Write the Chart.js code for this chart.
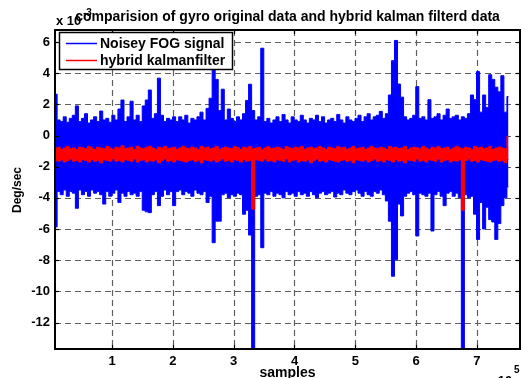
<!DOCTYPE html>
<html><head><meta charset="utf-8">
<script src="https://cdn.jsdelivr.net/npm/chart.js@4"></script>
<style>html,body{margin:0;padding:0;background:#fff;overflow:hidden}</style>
</head><body>
<canvas id="c" width="521" height="378"></canvas>
<script>
const titleText = "comparision of gyro original data and hybrid kalman filterd data";
const seriesNames = ["Noisey FOG signal", "hybrid kalmanfilter"];
const xLabel = "samples";
const yLabel = "Deg/sec";
const xTicks = [1, 2, 3, 4, 5, 6, 7];
const yTicks = [-12, -10, -8, -6, -4, -2, 0, 2, 4, 6];
// samples in units of 1e5, one column every sampleStep
const sampleStart = 0.07;
const sampleStep = 0.05;
// Deg/sec in units of 1e-3 : upper and lower extreme of noisy signal per column
const blueHigh = [
  2.65, 1.0, 0.9, 1.2, 0.85, 1.1, 1.3, 1.9, 0.9, 1.1,
  1.4, 0.8, 1.0, 1.2, 0.9, 1.57, 1.0, 1.1, 0.85, 1.3,
  1.0, 1.7, 2.28, 0.9, 1.2, 2.2, 1.0, 1.3, 0.9, 1.9,
  2.28, 2.92, 1.1, 1.4, 3.68, 1.3, 0.9, 1.1, 1.0, 1.2,
  0.9, 1.2, 1.0, 1.3, 0.8, 1.1, 1.0, 1.2, 1.5, 1.0,
  1.74, 2.39, 4.25, 3.6, 1.6, 2.97, 1.0, 1.7, 1.1, 0.9,
  1.2, 1.0, 1.4, 2.25, 3.29, 1.6, 1.0, 1.2, 5.6, 0.9,
  1.1, 0.8, 1.0, 1.2, 0.9, 1.35, 1.0, 0.8, 1.2, 1.0,
  0.9, 1.3, 1.0, 0.8, 1.1, 1.0, 1.3, 0.9, 1.2, 0.8,
  1.0, 1.1, 0.9, 1.35, 1.0, 0.8, 1.2, 1.0, 0.9, 1.1,
  1.3, 0.9, 1.2, 1.4, 1.0, 1.2, 1.3, 1.55, 1.1, 1.4,
  2.6, 4.8, 6.1, 3.3, 2.46, 1.2, 1.0, 1.1, 1.3, 3.14,
  1.1, 1.2, 1.0, 2.3, 1.1, 1.2, 1.4, 1.0, 1.3, 1.7,
  1.1, 1.2, 1.3, 1.0, 1.2, 1.1, 1.4, 2.6, 2.3, 4.1,
  1.5, 2.6, 1.8, 3.9, 3.6, 3.1, 2.8, 3.84, 1.5, 2.5
];
const blueLow = [
  -5.87, -3.6, -3.8, -3.5, -3.9, -3.6, -3.7, -4.67, -3.5, -3.8,
  -3.6, -3.9, -3.5, -3.7, -3.6, -3.8, -4.4, -3.6, -3.9, -3.7,
  -3.5, -4.3, -3.7, -3.9, -3.6, -3.8, -3.7, -3.9, -3.6, -4.8,
  -4.9, -4.95, -3.8, -3.6, -4.5, -3.9, -3.5, -3.8, -3.6, -4.5,
  -3.6, -3.5, -3.8, -3.6, -3.7, -3.9, -3.5, -3.7, -3.8, -3.6,
  -4.3, -3.9, -6.88, -5.5, -5.5, -3.8, -3.7, -4.0, -3.8, -3.9,
  -3.7, -3.8, -5.05, -4.8, -6.39, -14, -3.9, -3.8, -7.2, -3.7,
  -3.8, -3.6, -3.9, -3.7, -3.8, -4.0, -3.6, -3.8, -3.7, -3.9,
  -3.6, -3.8, -3.7, -3.9, -3.6, -3.8, -4.0, -3.7, -3.6, -3.8,
  -3.7, -3.6, -3.95, -3.7, -3.8, -3.5, -3.7, -3.8, -3.6, -3.5,
  -3.7, -3.9, -3.6, -3.8, -3.9, -3.6, -3.7, -3.5, -3.8, -4.2,
  -5.5, -9.03, -7.96, -4.4, -5.16, -3.9, -3.7, -3.6, -3.8, -6.45,
  -3.7, -3.8, -3.9, -3.7, -6.13, -3.8, -3.6, -3.9, -4.5, -3.7,
  -3.6, -3.9, -3.7, -4.0, -14, -3.8, -4.0, -3.9, -5.05, -6.67,
  -4.3, -6.0, -4.6, -5.4, -5.55, -6.67, -5.65, -4.5, -4.0, -3.3
];
// filtered signal: upper and lower extreme per column
const redHigh = [
  -0.8, -0.75, -0.9, -0.8, -0.7, -0.85, -0.8, -0.9, -0.75, -0.8,
  -0.85, -0.7, -0.8, -0.9, -0.75, -0.8, -0.85, -0.7, -0.8, -0.9,
  -0.75, -0.8, -0.65, -0.85, -0.8, -0.75, -0.9, -0.7, -0.8, -0.85,
  -0.75, -0.7, -0.8, -0.9, -0.75, -0.8, -0.7, -0.85, -0.8, -0.75,
  -0.9, -0.8, -0.7, -0.8, -0.85, -0.75, -0.8, -0.9, -0.7, -0.8,
  -0.75, -0.85, -0.8, -0.7, -0.9, -0.8, -0.75, -0.8, -0.85, -0.7,
  -0.8, -0.9, -0.75, -0.8, -0.7, -0.85, -0.8, -0.75, -0.9, -0.8,
  -0.7, -0.85, -0.8, -0.75, -0.8, -0.9, -0.7, -0.8, -0.85, -0.75,
  -0.8, -0.7, -0.9, -0.8, -0.75, -0.85, -0.8, -0.7, -0.8, -0.9,
  -0.75, -0.8, -0.85, -0.7, -0.8, -0.75, -0.9, -0.8, -0.7, -0.85,
  -0.8, -0.75, -0.9, -0.8, -0.7, -0.8, -0.85, -0.75, -0.8, -0.9,
  -0.7, -0.8, -0.75, -0.85, -0.8, -0.7, -0.9, -0.8, -0.75, -0.8,
  -0.85, -0.7, -0.8, -0.9, -0.75, -0.8, -0.7, -0.85, -0.8, -0.75,
  -0.9, -0.8, -0.7, -0.8, -0.85, -0.75, -0.8, -0.9, -0.7, -0.8,
  -0.75, -0.85, -0.8, -0.7, -0.9, -0.8, -0.75, -0.8, -0.85, -0.05
];
const redLow = [
  -1.6, -1.65, -1.55, -1.7, -1.6, -1.5, -1.65, -1.6, -1.7, -1.55,
  -1.6, -1.7, -1.55, -1.65, -1.6, -1.75, -1.55, -1.6, -1.65, -1.5,
  -1.65, -1.6, -1.7, -1.55, -1.6, -1.65, -1.5, -1.7, -1.6, -1.55,
  -1.7, -1.6, -1.65, -1.55, -1.75, -1.6, -1.5, -1.65, -1.6, -1.7,
  -1.55, -1.6, -1.65, -1.7, -1.6, -1.55, -1.65, -1.6, -1.75, -1.55,
  -1.6, -1.65, -1.55, -1.7, -1.6, -1.5, -1.65, -1.6, -1.7, -1.55,
  -1.6, -1.7, -1.55, -1.65, -1.6, -4.73, -1.55, -1.6, -1.65, -1.5,
  -1.65, -1.6, -1.7, -1.55, -1.6, -1.65, -1.5, -1.7, -1.6, -1.55,
  -1.7, -1.6, -1.65, -1.55, -1.75, -1.6, -1.5, -1.65, -1.6, -1.7,
  -1.55, -1.6, -1.65, -1.7, -1.6, -1.55, -1.65, -1.6, -1.75, -1.55,
  -1.6, -1.65, -1.55, -1.7, -1.6, -1.5, -1.65, -1.6, -1.7, -1.55,
  -1.6, -1.7, -1.55, -1.65, -1.6, -1.75, -1.55, -1.6, -1.65, -1.5,
  -1.65, -1.6, -1.7, -1.55, -1.6, -1.65, -1.5, -1.7, -1.6, -1.55,
  -1.7, -1.6, -1.65, -1.55, -4.8, -1.6, -1.5, -1.65, -1.6, -1.7,
  -1.55, -1.6, -1.65, -1.7, -1.6, -1.55, -1.65, -1.6, -1.75, -1.55
];
const xRange = [0.06, 7.71];
const yRange = [-13.7, 6.77];

function toPoints(vals) {
  return vals.map((v, i) => ({x: sampleStart + i * sampleStep, y: v}));
}

const FONT = '"Liberation Sans", Arial, Helvetica, sans-serif';

const matlabPlugin = {
  id: 'matlab',
  beforeDatasetsDraw(chart) {
    const {ctx, chartArea: a, scales: {x, y}} = chart;
    ctx.save();
    ctx.strokeStyle = '#5f5f5f';
    ctx.lineWidth = 1.2;
    ctx.setLineDash([6, 4]);
    xTicks.forEach(v => {
      const px = Math.round(x.getPixelForValue(v)) + 0.5;
      ctx.beginPath(); ctx.moveTo(px, a.top); ctx.lineTo(px, a.bottom); ctx.stroke();
    });
    yTicks.forEach(v => {
      const py = Math.round(y.getPixelForValue(v)) + 0.5;
      ctx.beginPath(); ctx.moveTo(a.left, py); ctx.lineTo(a.right, py); ctx.stroke();
    });
    ctx.restore();
  },
  afterDatasetsDraw(chart) {
    const {ctx, chartArea: a, scales: {x, y}} = chart;
    ctx.save();
    ctx.strokeStyle = '#000';
    ctx.lineWidth = 1.2;
    ctx.setLineDash([]);
    xTicks.forEach(v => {
      const px = Math.round(x.getPixelForValue(v)) + 0.5;
      ctx.beginPath(); ctx.moveTo(px, a.bottom); ctx.lineTo(px, a.bottom - 4); ctx.stroke();
      ctx.beginPath(); ctx.moveTo(px, a.top); ctx.lineTo(px, a.top + 4); ctx.stroke();
    });
    yTicks.forEach(v => {
      const py = Math.round(y.getPixelForValue(v)) + 0.5;
      ctx.beginPath(); ctx.moveTo(a.left, py); ctx.lineTo(a.left + 4, py); ctx.stroke();
      ctx.beginPath(); ctx.moveTo(a.right, py); ctx.lineTo(a.right - 4, py); ctx.stroke();
    });
    ctx.lineWidth = 2;
    ctx.strokeRect(a.left, a.top, a.right - a.left, a.bottom - a.top);
    // legend
    const lx = 59, ly = 32, lw = 173, lh = 37;
    ctx.fillStyle = '#fff';
    ctx.fillRect(lx, ly, lw, lh);
    ctx.lineWidth = 1.5;
    ctx.strokeStyle = '#000';
    ctx.strokeRect(lx + 0.5, ly + 0.5, lw, lh);
    const colors = ['#0000ff', '#ff0000'];
    const rows = [43.5, 60.5];
    ctx.font = 'bold 14px ' + FONT;
    ctx.textBaseline = 'middle';
    ctx.textAlign = 'left';
    rows.forEach((ry, k) => {
      ctx.strokeStyle = colors[k];
      ctx.lineWidth = 1.5;
      ctx.beginPath(); ctx.moveTo(66, ry); ctx.lineTo(97, ry); ctx.stroke();
      ctx.fillStyle = '#000';
      ctx.fillText(seriesNames[k], 100, ry + 0.5);
    });
    ctx.restore();
  },
  afterDraw(chart) {
    const {ctx, chartArea: a} = chart;
    ctx.save();
    ctx.fillStyle = '#000';
    ctx.textBaseline = 'alphabetic';
    ctx.font = 'bold 14px ' + FONT;
    ctx.textAlign = 'center';
    ctx.fillText(titleText, (a.left + a.right) / 2, 21);
    ctx.textAlign = 'left';
    ctx.font = 'bold 13px ' + FONT;
    ctx.fillText('x 10', 56, 25);
    ctx.font = 'bold 10px ' + FONT;
    ctx.fillText('-3', 83, 16);
    ctx.font = 'bold 13px ' + FONT;
    ctx.fillText('x 10', 487, 385);
    ctx.font = 'bold 10px ' + FONT;
    ctx.fillText('5', 514, 373);
    ctx.font = 'bold 14px ' + FONT;
    ctx.textAlign = 'center';
    ctx.fillText(xLabel, (a.left + a.right) / 2, 377);
    ctx.translate(18, 190);
    ctx.rotate(-Math.PI / 2);
    ctx.font = 'bold 12px ' + FONT;
    ctx.textBaseline = 'middle';
    ctx.fillText(yLabel, 0, 0);
    ctx.restore();
  }
};

const lineBase = {pointRadius: 0, tension: 0, stepped: 'middle', borderWidth: 1};

new Chart(document.getElementById('c'), {
  type: 'line',
  data: {
    datasets: [
      Object.assign({label: seriesNames[1], data: toPoints(redHigh), borderColor: '#ff0000', backgroundColor: '#ff0000', fill: '+1'}, lineBase),
      Object.assign({label: seriesNames[1] + ' low', data: toPoints(redLow), borderColor: '#ff0000', backgroundColor: '#ff0000', fill: false}, lineBase),
      Object.assign({label: seriesNames[0], data: toPoints(blueHigh), borderColor: '#0000ff', backgroundColor: '#0000ff', fill: '+1'}, lineBase),
      Object.assign({label: seriesNames[0] + ' low', data: toPoints(blueLow), borderColor: '#0000ff', backgroundColor: '#0000ff', fill: false}, lineBase)
    ]
  },
  options: {
    responsive: false,
    animation: false,
    devicePixelRatio: 1,
    layout: {padding: {top: 30, right: 1, left: 0, bottom: 0}},
    plugins: {legend: {display: false}, tooltip: {enabled: false}, title: {display: false}},
    scales: {
      x: {
        type: 'linear', min: xRange[0], max: xRange[1],
        afterBuildTicks: s => { s.ticks = xTicks.map(v => ({value: v})); },
        afterFit: s => { s.height = 29; },
        grid: {display: false, drawTicks: false},
        border: {display: false},
        ticks: {color: '#000', font: {family: FONT, size: 13, weight: 'bold'}, padding: 5, maxRotation: 0, autoSkip: false}
      },
      y: {
        type: 'linear', min: yRange[0], max: yRange[1],
        afterBuildTicks: s => { s.ticks = yTicks.map(v => ({value: v})); },
        afterFit: s => { s.width = 55; },
        grid: {display: false, drawTicks: false},
        border: {display: false},
        ticks: {color: '#000', font: {family: FONT, size: 13, weight: 'bold'}, padding: 5, autoSkip: false}
      }
    }
  },
  plugins: [matlabPlugin]
});
</script>
</body></html>
